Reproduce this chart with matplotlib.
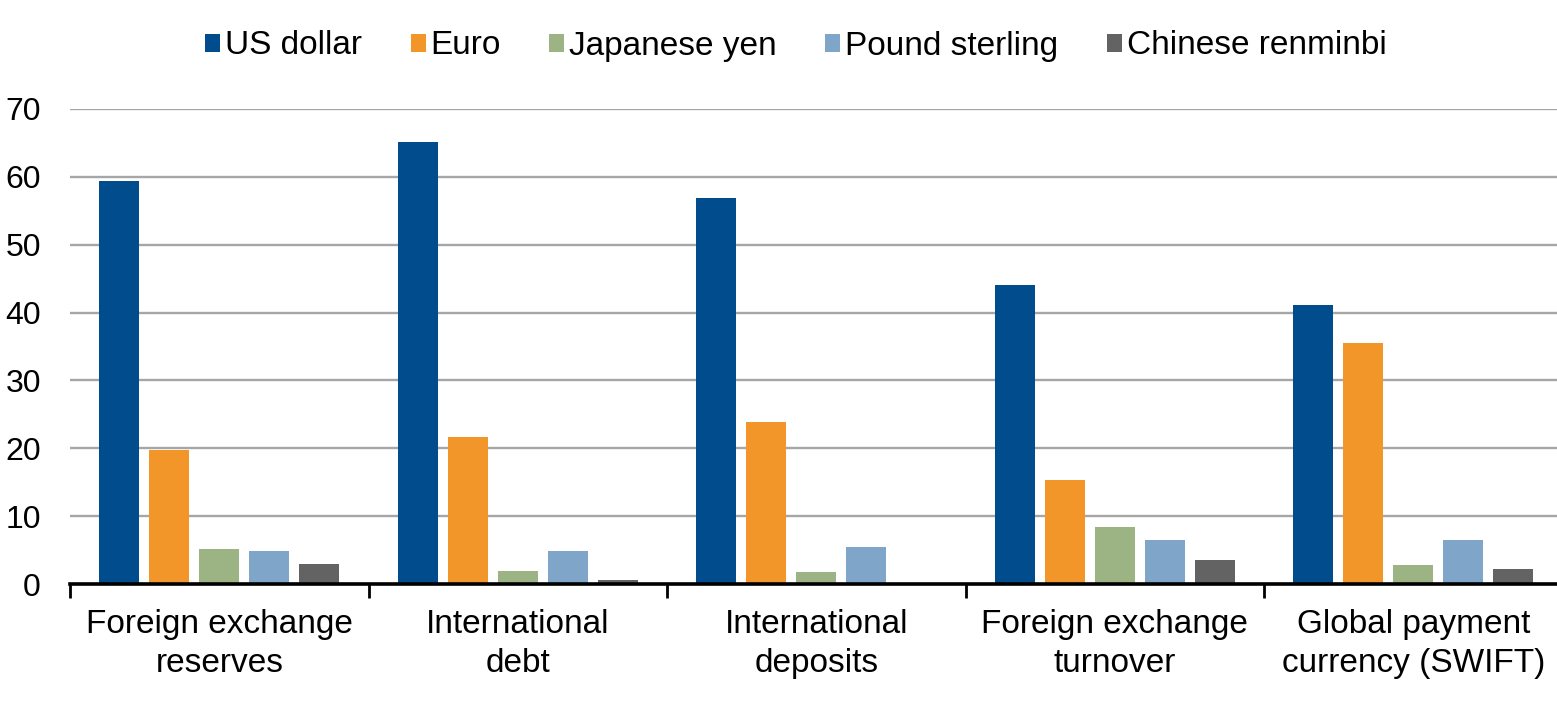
import matplotlib.pyplot as plt
import numpy as np

plt.rcParams['font.family'] = ['Liberation Sans', 'DejaVu Sans']

categories = ['Foreign exchange\nreserves', 'International\ndebt', 'International\ndeposits',
              'Foreign exchange\nturnover', 'Global payment\ncurrency (SWIFT)']
series = ['US dollar', 'Euro', 'Japanese yen', 'Pound sterling', 'Chinese renminbi']
usd = [59.4, 65.2, 56.9, 44.1, 41.1]
eur = [19.8, 21.7, 23.9, 15.3, 35.5]
jpy = [5.2, 1.9, 1.8, 8.4, 2.8]
gbp = [4.9, 4.9, 5.5, 6.5, 6.5]
cny = [2.9, 0.6, 0.0, 3.5, 2.2]
colors = ['#004C8C', '#F39629', '#9CB384', '#7FA5C9', '#636363']

values = [usd, eur, jpy, gbp, cny]

fig = plt.figure(figsize=(15.57, 7.12), dpi=100)
ax = fig.add_axes([70 / 1557, 1 - 584 / 712, 1 - 70 / 1557, (584 - 109) / 712])

x = np.arange(len(categories))
step = 50 / 298.5
width = 40 / 298.5
for i, (name, vals, col) in enumerate(zip(series, values, colors)):
    ax.bar(x + (i - 2) * step, vals, width, color=col, label=name, zorder=3)

ax.set_ylim(0, 70)
ax.set_xlim(-0.5, -0.5 + (1557 - 70) / 298.5)
ax.set_yticks(range(0, 71, 10))
ax.yaxis.grid(True, color='#A6A6A6', lw=1.7, zorder=0)
ax.tick_params(axis='y', length=0, pad=21, labelsize=23)

ax.set_xticks(np.arange(-0.5, len(categories) - 0.5, 1))
ax.set_xticklabels([])
ax.set_xticks(x, minor=True)
ax.set_xticklabels(categories, minor=True, fontsize=24, linespacing=1.32)
ax.tick_params(axis='x', which='major', length=10, width=2, color='black', direction='out')
ax.tick_params(axis='x', which='minor', length=0, pad=18)

for s in ['top', 'right', 'left']:
    ax.spines[s].set_visible(False)
ax.spines['bottom'].set_linewidth(2.6)
ax.spines['bottom'].set_zorder(4)

fig.legend(loc='center', bbox_to_anchor=(796 / 1557, 1 - 46 / 712), ncol=5, frameon=False,
           fontsize=24, handlelength=0.45, handleheight=0.45, handletextpad=0.15,
           columnspacing=1.45, borderaxespad=0)

fig.savefig('out.png', dpi=100)
